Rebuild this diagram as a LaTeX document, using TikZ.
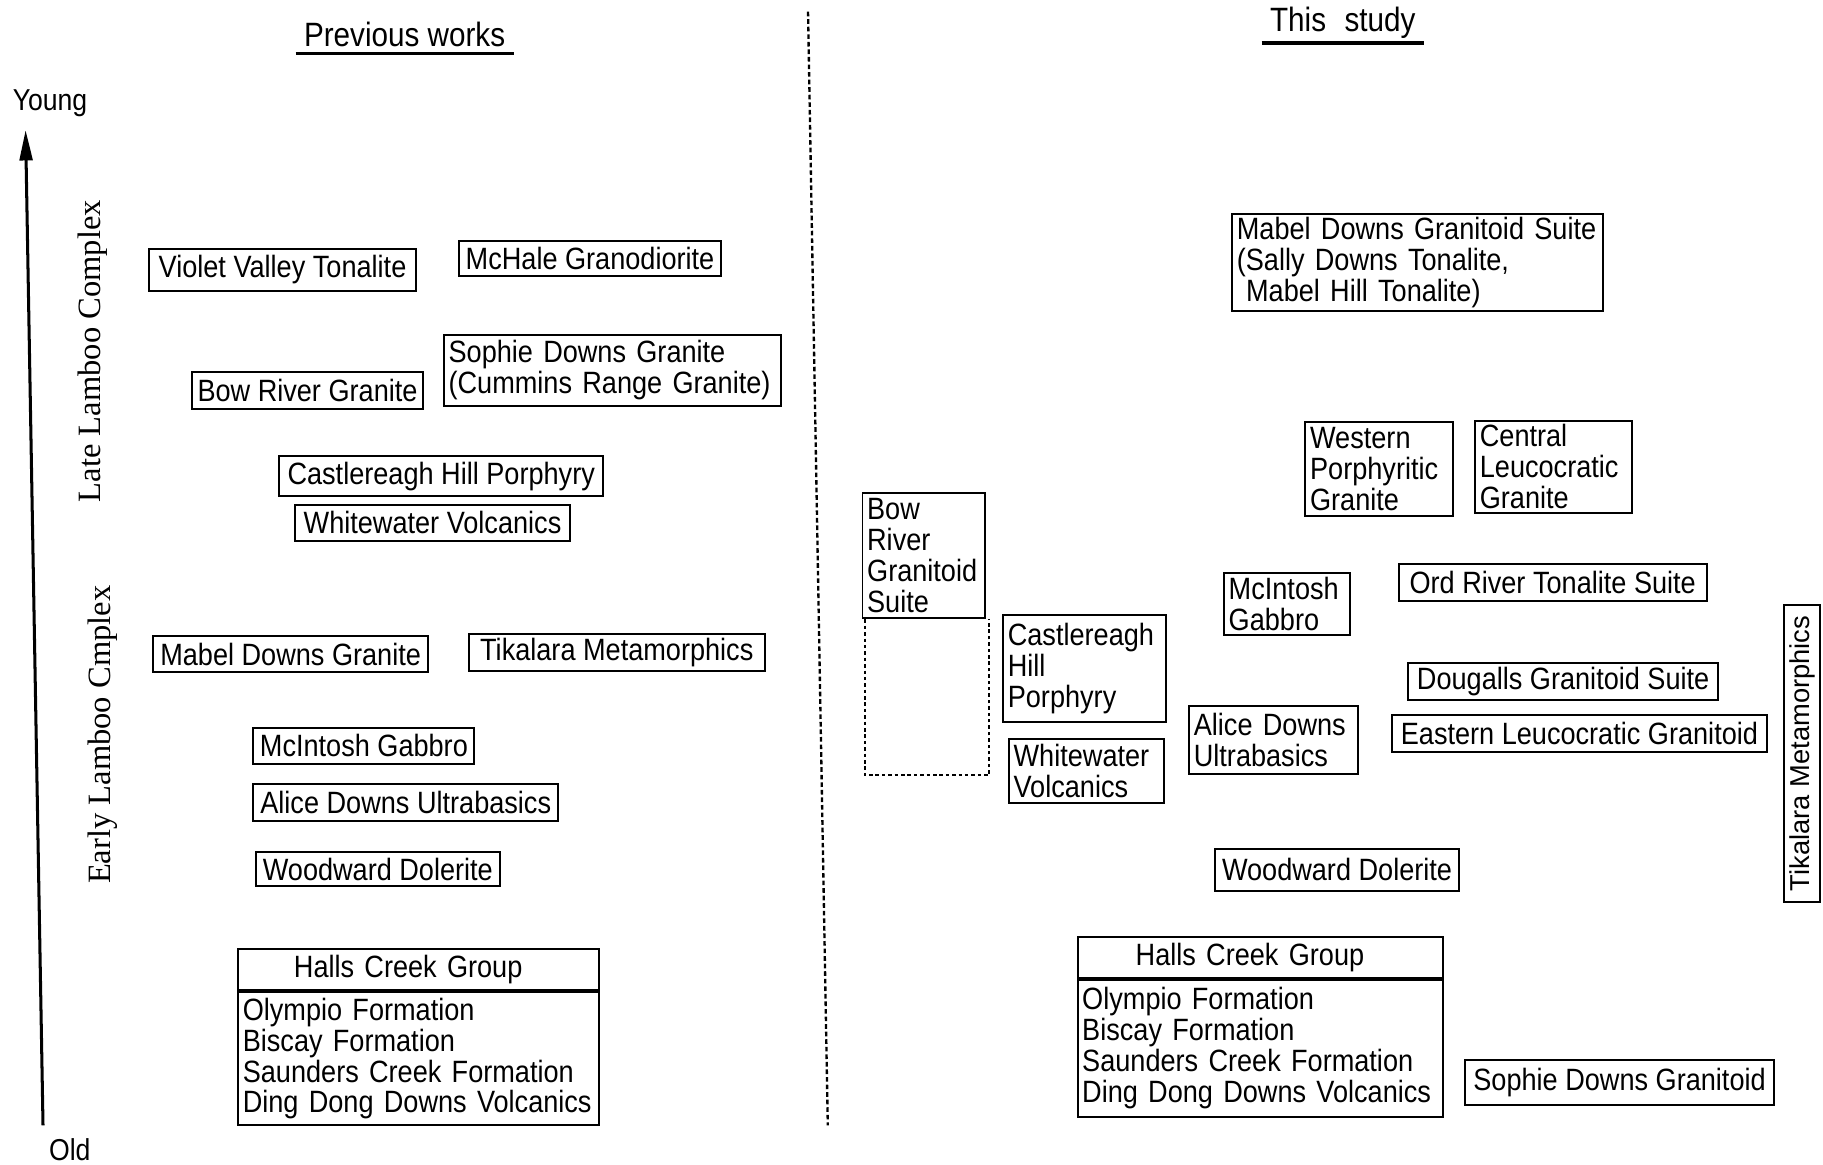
\documentclass[tikz,border=0pt]{standalone}
\usepackage{fontspec}
\setmainfont{Liberation Sans}[FakeStretch=0.88]
\newfontfamily\serifx{Liberation Serif}
\newfontfamily\widesans{Liberation Sans}
\usetikzlibrary{arrows.meta}
\begin{document}
\begin{tikzpicture}[x=1pt,y=-1pt,
  bx/.style={draw, line width=1.7pt, inner xsep=4pt, inner ysep=1.5pt, font=\fontsize{26.5}{26.5}\selectfont},
  ml/.style={bx, anchor=north west, align=left},
  hdr/.style={bx, anchor=north west, align=left},
  ttl/.style={inner xsep=7pt, inner ysep=0pt, anchor=base, font=\fontsize{29}{30}\selectfont},
  plain/.style={inner sep=0pt, font=\fontsize{26}{26}\selectfont},
  vlab/.style={rotate=90, inner sep=0pt, font=\serifx\fontsize{28}{30}\selectfont}]
\useasboundingbox (0,0) rectangle (1568,1002);

% titles
\node[ttl] (pw) at (348,40) {Previous works};
\draw[line width=2.8pt] ([yshift=-6pt]pw.base west) -- ([yshift=-6pt]pw.base east);
\node[ttl] (ts) at (1155,27) {This\hspace{0.55em}study};
\draw[line width=2.8pt] ([yshift=-10pt]ts.base west) -- ([yshift=-10pt]ts.base east);

% divider
\coordinate (dtop) at (695,10);
\coordinate (dbot) at (712,968);
\draw[line width=2pt, dash pattern=on 4pt off 2.5pt] (dtop) -- (dbot);

% time axis
\node[plain] (young) at (43,89) {Young};
\node[plain] (old) at (60,989) {Old};
\coordinate (abot) at (37,968);
\coordinate (atop) at (22,112);
\draw[line width=2.6pt, -{Triangle[length=26pt,width=11pt]}] (abot) -- (atop);
\node[vlab] (llc) at (80,302) {Late Lamboo Complex};
\node[vlab] (elc) at (88,632) {Early Lamboo Cmplex};

% previous works
\node[bx, minimum width=230, minimum height=36] (vvt) at (243,232) {Violet Valley Tonalite};
\node[bx, minimum width=225, minimum height=30] (mhg) at (507.5,222) {McHale Granodiorite};
\node[bx, minimum width=199, minimum height=32] (brg) at (264.5,336) {Bow River Granite};
\node[ml, text width=282, minimum height=61] (sdg) at (381,287) {\mbox{Sophie Downs Granite}\\\mbox{(Cummins Range Granite)}};
\node[bx, minimum width=279, minimum height=35] (chp) at (379.5,409.5) {Castlereagh Hill Porphyry};
\node[bx, minimum width=236, minimum height=31] (wv) at (372,449.5) {Whitewater Volcanics};
\node[bx, minimum width=236, minimum height=31] (mdg) at (250,562.5) {Mabel Downs Granite};
\node[bx, minimum width=255, minimum height=32] (tm) at (530.5,561) {Tikalara Metamorphics};
\node[bx, minimum width=190, minimum height=31] (mig) at (313,641.5) {McIntosh Gabbro};
\node[bx, minimum width=262, minimum height=32] (adu) at (349,690) {Alice Downs Ultrabasics};
\node[bx, minimum width=210, minimum height=29] (wd) at (325,747.5) {Woodward Dolerite};
\node[hdr, text width=302, minimum height=36] (hcg) at (204,815) {\hspace*{44pt}\mbox{Halls Creek Group}};
\node[ml, text width=302, minimum height=114] (hcgb) at (hcg.south west) {\mbox{Olympio Formation}\\\mbox{Biscay Formation}\\\mbox{Saunders Creek Formation}\\\mbox{Ding Dong Downs Volcanics}};

% this study
\node[ml, text width=311, minimum height=84] (mdgs) at (1059,183) {\mbox{Mabel Downs Granitoid Suite}\\\mbox{(Sally Downs Tonalite,}\\\mbox{\hspace{0.3em}Mabel Hill Tonalite)}};
\node[ml, text width=119, minimum height=81] (wpg) at (1122,362) {Western\\Porphyritic\\Granite};
\node[ml, text width=127, minimum height=79] (clg) at (1268,361) {Central\\Leucocratic\\Granite};
\node[ml, text width=97, minimum height=108] (brgs) at (741,423) {Bow\\River\\Granitoid\\Suite};
\draw[line width=1.7pt, dash pattern=on 3pt off 2.5pt] ([xshift=3pt]brgs.south west) -- ++(0,134) -| ([xshift=3pt]brgs.south east);
\node[ml, text width=132, minimum height=92] (chp2) at (862,528) {Castlereagh\\Hill\\Porphyry};
\node[ml, text width=125, minimum height=55] (wv2) at (867,635) {Whitewater\\Volcanics};
\node[ml, text width=100, minimum height=53] (mig2) at (1052,492) {McIntosh\\Gabbro};
\node[bx, minimum width=265, minimum height=32] (orts) at (1335.5,501) {Ord River Tonalite Suite};
\node[ml, text width=137, minimum height=59] (adu2) at (1022,606) {\mbox{Alice Downs}\\Ultrabasics};
\node[bx, minimum width=267, minimum height=32] (dgs) at (1344.5,586) {Dougalls Granitoid Suite};
\node[bx, minimum width=323, minimum height=32] (elg) at (1358.5,631) {Eastern Leucocratic Granitoid};
\node[bx, rotate=90, font=\widesans\fontsize{23.5}{26}\selectfont, minimum width=255, minimum height=31] (tm2) at (1550,648) {Tikalara Metamorphics};
\node[bx, minimum width=210, minimum height=36] (wd2) at (1150,748) {Woodward Dolerite};
\node[hdr, text width=306, minimum height=35] (hcg2) at (926,805) {\hspace*{46pt}\mbox{Halls Creek Group}};
\node[ml, text width=306, minimum height=118] (hcgb2) at (hcg2.south west) {\mbox{Olympio Formation}\\\mbox{Biscay Formation}\\\mbox{Saunders Creek Formation}\\\mbox{Ding Dong Downs Volcanics}};
\node[bx, minimum width=266, minimum height=38] (sdgr) at (1393,931) {Sophie Downs Granitoid};
\end{tikzpicture}
\end{document}
